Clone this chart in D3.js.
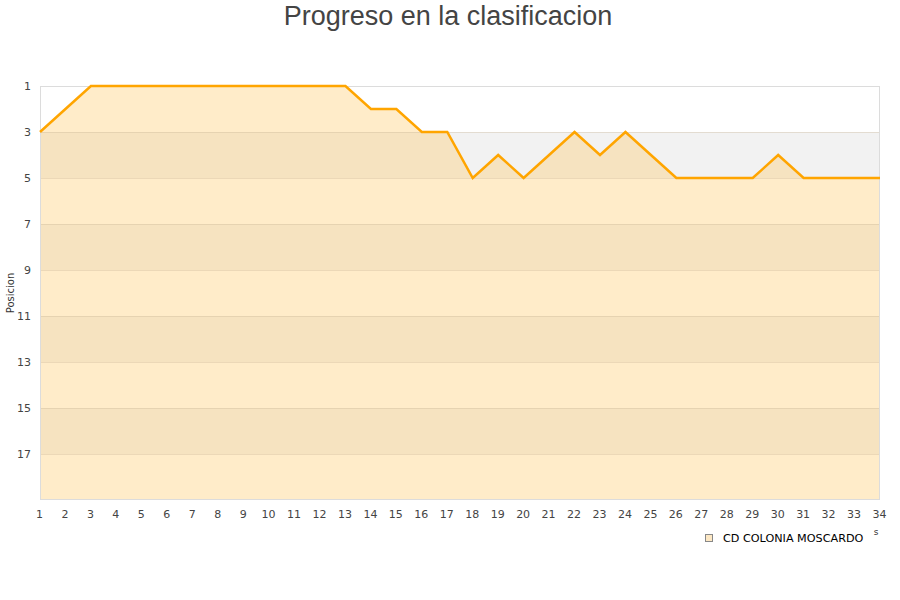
<!DOCTYPE html>
<html><head><meta charset="utf-8">
<script src="https://cdn.jsdelivr.net/npm/d3@7"></script>
<style>body{margin:0;background:#fff}</style>
</head><body>
<script>
const jornadas = d3.range(1, 35);
const posiciones = [3,2,1,1,1,1,1,1,1,1,1,1,1,2,2,3,3,5,4,5,4,3,4,3,4,5,5,5,5,4,5,5,5,5];
const yTicks = [1,3,5,7,9,11,13,15,17];
const bandStarts = [3,7,11,15];
const seriesName = "CD COLONIA MOSCARDO";
const titleText = "Progreso en la clasificacion";

const W = 900, H = 600;
const svg = d3.select("body").append("svg").attr("width", W).attr("height", H);
const x = d3.scaleLinear().domain([1,34]).range([40,880]);
const y = d3.scaleLinear().domain([1,19]).range([86,500]);

svg.selectAll("rect.band").data(bandStarts).join("rect")
  .attr("x", 40).attr("width", 840)
  .attr("y", d => y(d)).attr("height", d => y(d+2)-y(d))
  .attr("fill", "#f2f2f2");

const data = jornadas.map((j,i)=>({j, p: posiciones[i]}));
svg.append("path").datum(data)
  .attr("d", d3.area().x(d=>x(d.j)).y0(y(19)).y1(d=>y(d.p)))
  .attr("fill", "rgba(255,200,100,0.35)");

svg.selectAll("line.grid").data(d3.range(3,19,2)).join("line")
  .attr("x1",40).attr("x2",880).attr("y1",d=>y(d)+0.5).attr("y2",d=>y(d)+0.5)
  .attr("stroke","rgba(200,180,150,0.35)");

svg.append("rect").attr("x",40.5).attr("y",86.5).attr("width",839).attr("height",413)
  .attr("fill","none").attr("stroke","#dcdcdc");

svg.append("path").datum(data)
  .attr("d", d3.line().x(d=>x(d.j)).y(d=>y(d.p)))
  .attr("fill","none").attr("stroke","#ffa500").attr("stroke-width",2.5);

svg.selectAll("text.yt").data(yTicks).join("text")
  .attr("x",31).attr("y",d=>y(d)).attr("dy","0.35em").attr("text-anchor","end")
  .attr("font-family","DejaVu Sans").attr("font-size",11).attr("fill","#444").text(d=>d);
svg.selectAll("text.xt").data(jornadas).join("text")
  .attr("x",d=>x(d)-0.5).attr("y",518).attr("text-anchor","middle")
  .attr("font-family","DejaVu Sans").attr("font-size",11).attr("fill","#444").text(d=>d);

svg.append("text").attr("transform","translate(14,293) rotate(-90)").attr("text-anchor","middle")
  .attr("font-family","DejaVu Sans").attr("font-size",10).attr("fill","#333").text("Posicion");

// visible fragment of the clipped x-axis title
svg.append("text").attr("x",876).attr("y",535).attr("text-anchor","middle")
  .attr("font-family","DejaVu Sans").attr("font-size",9).attr("fill","#333").text("s");

const lg = svg.append("g");
lg.append("rect").attr("x",705.5).attr("y",534.5).attr("width",7).attr("height",7)
  .attr("fill","#fde8c4").attr("stroke","#888");
lg.append("text").attr("x",723).attr("y",542).attr("font-family","DejaVu Sans").attr("font-size",11.2)
  .attr("fill","#000").text(seriesName);

svg.append("text").attr("x",448).attr("y",25).attr("text-anchor","middle")
  .attr("font-family","Liberation Sans").attr("font-size",27).attr("fill","#444").text(titleText);
</script>
</body></html>
